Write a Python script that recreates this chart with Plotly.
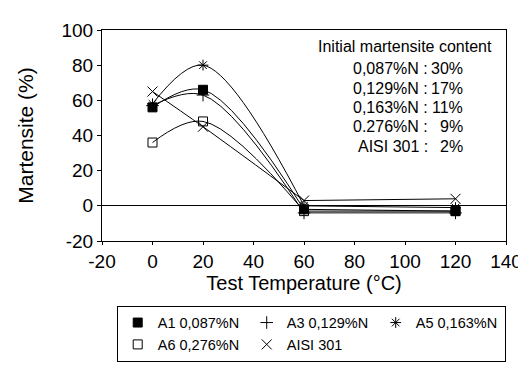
import plotly.graph_objects as go

# ---- data ----
temps = [0, 20, 60, 120]
a1 = [56, 66, -2, -3]
a3 = [57, 63, -4, -4]
a5 = [58, 80, 0, -1]
a6 = [36, 48, -3, -3]
aisi = [65, 45, 3, 4]

series_names = ["A1 0,087%N", "A3 0,129%N", "A5 0,163%N", "A6 0,276%N", "AISI 301"]
series_values = [a1, a3, a5, a6, aisi]
series_symbols = ["square", "cross-thin-open", "asterisk-open", "square-open", "x-thin-open"]
series_sizes = [9, 9, 9, 9, 10]

initial_labels = ["0,087%N :", "0,129%N :", "0,163%N :", "0.276%N :", "AISI 301 :"]
initial_values = ["30%", "17%", "11%", "9%", "2%"]

x_ticks = [-20, 0, 20, 40, 60, 80, 100, 120, 140]
x_tick_text = ["-20", "0", "20", "40", "60", "80", "100", "120", "140"]
y_ticks = [-20, 0, 20, 40, 60, 80, 100]
y_tick_text = ["-20", "0", "20", "40", "60", "80", "100"]

FONT = "Liberation Sans, Arial, sans-serif"

fig = go.Figure()
for name, vals, sym, sz in zip(series_names, series_values, series_symbols, series_sizes):
    # smooth curve through the first three measurements
    fig.add_trace(go.Scatter(
        x=temps[:3], y=vals[:3], mode="lines", showlegend=False, hoverinfo="skip",
        line=dict(color="black", width=1, shape="spline", smoothing=1.0),
    ))
    # straight segment between the last two measurements
    fig.add_trace(go.Scatter(
        x=temps[2:], y=vals[2:], mode="lines", showlegend=False, hoverinfo="skip",
        line=dict(color="black", width=1),
    ))
    # markers (and legend entry)
    fig.add_trace(go.Scatter(
        x=temps, y=vals, name=name, mode="markers",
        marker=dict(symbol=sym, size=sz, color="black",
                    line=dict(color="black", width=1)),
    ))

# Plot area geometry helpers (pixels -> paper)
L, R, T, B = 94, 20, 20, 123
W, H = 526, 365
pw, ph = W - L - R, H - T - B


def px(x):
    return (x - L) / pw


def py(y):
    return (H - B - y) / ph


ann_font = dict(family=FONT, size=16, color="black")
annotations = [dict(
    text="Initial martensite content", x=px(494), y=py(37), xref="paper", yref="paper",
    xanchor="right", yanchor="middle", showarrow=False, font=ann_font)]
for i, (lab, val) in enumerate(zip(initial_labels, initial_values)):
    yy = py(61 + i * 20.3)
    annotations.append(dict(text=lab, x=px(428), y=yy, xref="paper", yref="paper",
                            xanchor="right", yanchor="middle", showarrow=False, font=ann_font))
    annotations.append(dict(text=val, x=px(464), y=yy, xref="paper", yref="paper",
                            xanchor="right", yanchor="middle", showarrow=False, font=ann_font))

LEG_L, LEG_T = 109, 310
LEG_R = 492
shapes = [
    # legend drop shadow (right and bottom)
    dict(type="line", xref="paper", yref="paper", x0=px(LEG_R), x1=px(LEG_R), y0=py(LEG_T + 3), y1=py(359),
         line=dict(color="black", width=4)),
    dict(type="line", xref="paper", yref="paper", x0=px(LEG_L + 4), x1=px(LEG_R + 2), y0=py(358.5), y1=py(358.5),
         line=dict(color="black", width=2)),
]

fig.update_layout(
    width=W, height=H,
    margin=dict(l=L, r=R, t=T, b=B),
    paper_bgcolor="white", plot_bgcolor="white",
    font=dict(family=FONT, color="black"),
    xaxis=dict(range=[-20, 140], tickvals=x_ticks, ticktext=x_tick_text,
               showgrid=False, zeroline=False,
               showline=True, linecolor="black", linewidth=1, mirror=True,
               ticks="outside", ticklen=3, tickcolor="black",
               tickfont=dict(size=19),
               title=dict(text="Test Temperature (°C)", font=dict(size=20), standoff=2)),
    yaxis=dict(range=[-20, 100], tickvals=y_ticks, ticktext=y_tick_text,
               showgrid=False, zeroline=True,
               zerolinecolor="black", zerolinewidth=1,
               showline=True, linecolor="black", linewidth=1, mirror=True,
               ticks="outside", ticklen=4, tickcolor="black",
               tickfont=dict(size=19),
               title=dict(text="Martensite (%)", font=dict(size=21), standoff=22)),
    legend=dict(orientation="h", x=px(LEG_L), y=py(LEG_T), xanchor="left", yanchor="top",
                bordercolor="black", borderwidth=1, bgcolor="white",
                font=dict(size=14.5, family=FONT), itemwidth=30, tracegroupgap=0,
                entrywidth=84, entrywidthmode="pixels"),
    annotations=annotations,
    shapes=shapes,
    showlegend=True,
)

fig.write_html("out.html")
